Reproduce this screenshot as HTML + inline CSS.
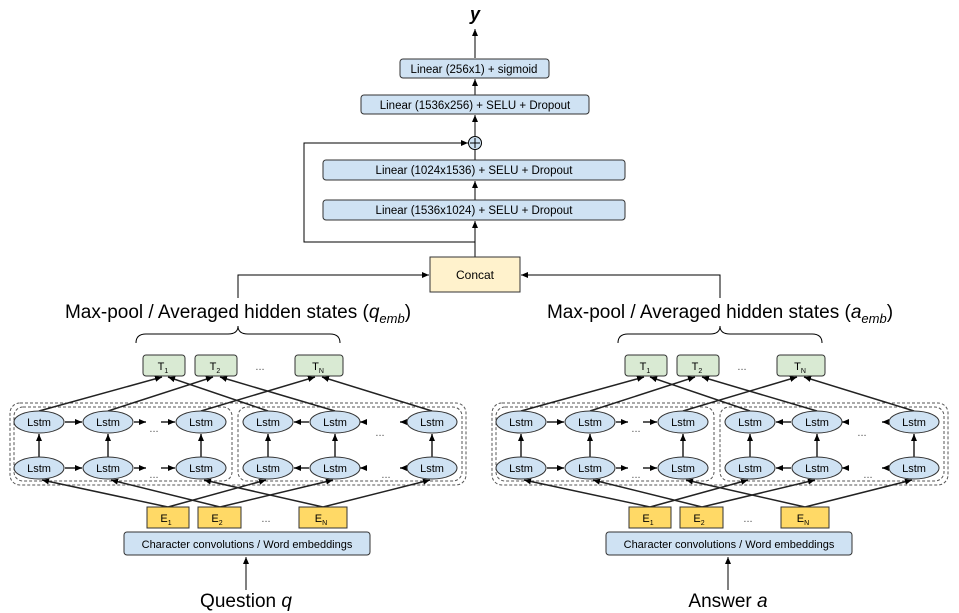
<!DOCTYPE html>
<html><head><meta charset="utf-8"><style>html,body{margin:0;padding:0;background:#fff}svg{display:block}</style></head><body>
<svg width="959" height="613" viewBox="0 0 959 613" xmlns="http://www.w3.org/2000/svg" font-family="Liberation Sans, Arial, sans-serif">
<defs>
<marker id="a" markerWidth="8" markerHeight="8" refX="7" refY="4" orient="auto" markerUnits="userSpaceOnUse"><path d="M0,1 L7,4 L0,7 z" fill="#000"/></marker>
</defs>
<!-- top stack -->
<text x="475" y="20" font-size="18" font-weight="bold" font-style="italic" text-anchor="middle">y</text>
<line x1="475" y1="58" x2="475" y2="29" stroke="#000" stroke-width="1" marker-end="url(#a)"/>
<rect x="400" y="59" width="149" height="19" rx="3" fill="#cfe2f3" stroke="#333"/>
<text x="474" y="73" font-size="11.5" text-anchor="middle">Linear (256x1)  + sigmoid</text>
<line x1="475" y1="95" x2="475" y2="79" stroke="#000" marker-end="url(#a)"/>
<rect x="361" y="95" width="228" height="19" rx="3" fill="#cfe2f3" stroke="#333"/>
<text x="475" y="109" font-size="11.5" text-anchor="middle">Linear (1536x256) + SELU + Dropout</text>
<line x1="475" y1="136" x2="475" y2="115" stroke="#000" marker-end="url(#a)"/>
<circle cx="475" cy="143" r="6.5" fill="#cfe2f3" stroke="#000"/>
<line x1="470" y1="143" x2="480" y2="143" stroke="#000"/><line x1="475" y1="138" x2="475" y2="148" stroke="#000"/>
<line x1="475" y1="160" x2="475" y2="150" stroke="#000"/>
<rect x="323" y="160" width="302" height="20" rx="3" fill="#cfe2f3" stroke="#333"/>
<text x="474" y="174" font-size="11.5" text-anchor="middle">Linear (1024x1536) + SELU + Dropout</text>
<line x1="475" y1="200" x2="475" y2="181" stroke="#000" marker-end="url(#a)"/>
<rect x="323" y="200" width="302" height="20" rx="3" fill="#cfe2f3" stroke="#333"/>
<text x="474" y="214" font-size="11.5" text-anchor="middle">Linear (1536x1024) + SELU + Dropout</text>
<line x1="475" y1="257" x2="475" y2="221" stroke="#000" marker-end="url(#a)"/>
<polyline points="475,242 304,242 304,143 468,143" fill="none" stroke="#000" marker-end="url(#a)"/>
<rect x="430" y="257" width="90" height="35" fill="#fff2cc" stroke="#333"/>
<text x="475" y="279" font-size="12" text-anchor="middle">Concat</text>
<polyline points="238,298 238,275 429,275" fill="none" stroke="#000" marker-end="url(#a)"/>
<polyline points="720,298 720,275 521,275" fill="none" stroke="#000" marker-end="url(#a)"/>

<text x="238" y="318" font-size="19" text-anchor="middle">Max-pool / Averaged hidden states (<tspan font-style="italic">q</tspan><tspan font-style="italic" font-size="13" dy="5">emb</tspan><tspan dy="-5">)</tspan></text>
<text x="720" y="318" font-size="19" text-anchor="middle">Max-pool / Averaged hidden states (<tspan font-style="italic">a</tspan><tspan font-style="italic" font-size="13" dy="5">emb</tspan><tspan dy="-5">)</tspan></text>

<g id="panel">
<path d="M136,343 Q136,334 146,334 L228,334 Q238,334 238,326 Q238,334 248,334 L330,334 Q340,334 340,343" fill="none" stroke="#000"/>
<rect x="10" y="403" width="456" height="82" rx="10" fill="none" stroke="#555" stroke-dasharray="3,2"/>
<rect x="14" y="407" width="218" height="74" rx="9" fill="none" stroke="#555" stroke-dasharray="3,2"/>
<rect x="238" y="407" width="224" height="74" rx="9" fill="none" stroke="#555" stroke-dasharray="3,2"/>
<g fill="#d9ead3" stroke="#333">
<rect x="143" y="355" width="42" height="21" rx="3"/><rect x="195" y="355" width="42" height="21" rx="3"/><rect x="295" y="355" width="48" height="21" rx="3"/></g>
<g font-size="11" text-anchor="middle">
<text x="163" y="370">T<tspan font-size="7" dy="3">1</tspan></text>
<text x="215" y="370">T<tspan font-size="7" dy="3">2</tspan></text>
<text x="318" y="370">T<tspan font-size="7" dy="3">N</tspan></text>
<text x="260" y="370" fill="#555">...</text></g>
<g stroke="#222" stroke-width="1.5" fill="none" marker-end="url(#a)">
<line x1="39" y1="411" x2="162" y2="377"/><line x1="268" y1="411" x2="168" y2="377"/>
<line x1="108" y1="411" x2="213" y2="377"/><line x1="335" y1="411" x2="220" y2="377"/>
<line x1="201" y1="411" x2="315" y2="377"/><line x1="432" y1="411" x2="322" y2="377"/>
<line x1="168" y1="507" x2="42" y2="480"/><line x1="168" y1="507" x2="266" y2="480"/>
<line x1="220" y1="507" x2="111" y2="480"/><line x1="220" y1="507" x2="333" y2="480"/>
<line x1="323" y1="507" x2="204" y2="480"/><line x1="323" y1="507" x2="430" y2="480"/>
<line x1="39" y1="457" x2="39" y2="434"/><line x1="108" y1="457" x2="108" y2="434"/><line x1="201" y1="457" x2="201" y2="434"/>
<line x1="268" y1="457" x2="268" y2="434"/><line x1="335" y1="457" x2="335" y2="434"/><line x1="432" y1="457" x2="432" y2="434"/>
<line x1="65" y1="422" x2="82" y2="422"/><line x1="65" y1="468" x2="82" y2="468"/>
<line x1="134" y1="422" x2="146" y2="422"/><line x1="134" y1="468" x2="146" y2="468"/>
<line x1="161" y1="422" x2="175" y2="422"/><line x1="161" y1="468" x2="175" y2="468"/>
<line x1="309" y1="422" x2="294" y2="422"/><line x1="309" y1="468" x2="294" y2="468"/>
<line x1="366" y1="422" x2="360" y2="422"/><line x1="366" y1="468" x2="360" y2="468"/>
<line x1="406" y1="422" x2="400" y2="422"/><line x1="406" y1="468" x2="400" y2="468"/>
</g>
<g fill="#cfe2f3" stroke="#333">
<ellipse cx="39" cy="422" rx="25" ry="11"/><ellipse cx="108" cy="422" rx="25" ry="11"/><ellipse cx="201" cy="422" rx="25" ry="11"/>
<ellipse cx="268" cy="422" rx="25" ry="11"/><ellipse cx="335" cy="422" rx="25" ry="11"/><ellipse cx="432" cy="422" rx="25" ry="11"/>
<ellipse cx="39" cy="468" rx="25" ry="11"/><ellipse cx="108" cy="468" rx="25" ry="11"/><ellipse cx="201" cy="468" rx="25" ry="11"/>
<ellipse cx="268" cy="468" rx="25" ry="11"/><ellipse cx="335" cy="468" rx="25" ry="11"/><ellipse cx="432" cy="468" rx="25" ry="11"/></g>
<g font-size="11" text-anchor="middle">
<text x="39" y="426">Lstm</text><text x="108" y="426">Lstm</text><text x="201" y="426">Lstm</text>
<text x="268" y="426">Lstm</text><text x="335" y="426">Lstm</text><text x="432" y="426">Lstm</text>
<text x="39" y="472">Lstm</text><text x="108" y="472">Lstm</text><text x="201" y="472">Lstm</text>
<text x="268" y="472">Lstm</text><text x="335" y="472">Lstm</text><text x="432" y="472">Lstm</text>
<g fill="#555"><text x="154" y="432">...</text><text x="154" y="478">...</text><text x="380" y="436">...</text><text x="386" y="478">...</text></g></g>
<g fill="#ffd966" stroke="#333">
<rect x="147" y="507" width="42" height="21"/><rect x="198" y="507" width="43" height="21"/><rect x="299" y="507" width="48" height="21"/></g>
<g font-size="11" text-anchor="middle">
<text x="166" y="522">E<tspan font-size="7" dy="3">1</tspan></text>
<text x="217" y="522">E<tspan font-size="7" dy="3">2</tspan></text>
<text x="321" y="522">E<tspan font-size="7" dy="3">N</tspan></text>
<text x="266" y="522" fill="#555">...</text></g>
<rect x="124" y="532" width="246" height="23" rx="3" fill="#cfe2f3" stroke="#333"/>
<text x="247" y="548" font-size="11" text-anchor="middle">Character convolutions / Word embeddings</text>
<line x1="246" y1="590" x2="246" y2="557" stroke="#000" marker-end="url(#a)"/>
</g>
<use href="#panel" transform="translate(482,0)"/>
<text x="246" y="607" font-size="19" text-anchor="middle">Question <tspan font-style="italic">q</tspan></text>
<text x="728" y="607" font-size="19" text-anchor="middle">Answer <tspan font-style="italic">a</tspan></text>
</svg>
</body></html>
